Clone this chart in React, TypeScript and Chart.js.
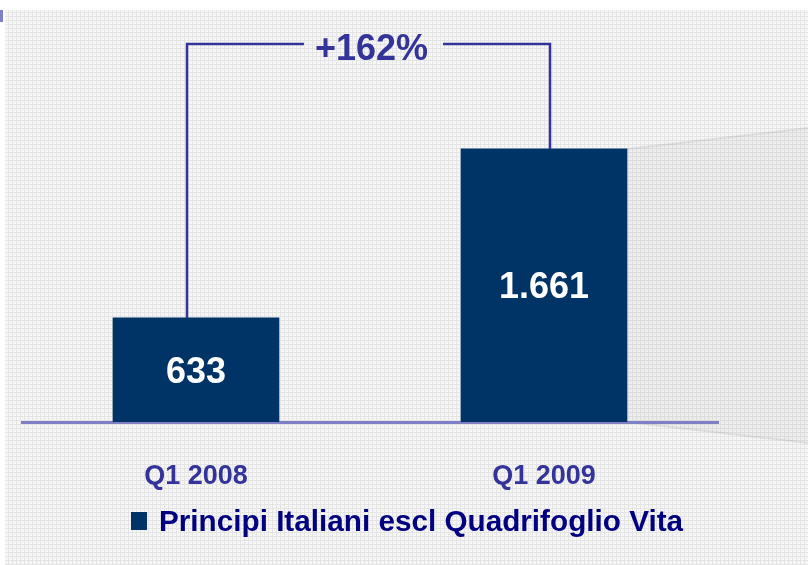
import React, { useEffect, useRef } from "react";
import { Chart, registerables } from "chart.js";

Chart.register(...registerables);

const categories = ["Q1 2008", "Q1 2009"];
const seriesName = "Principi Italiani escl Quadrifoglio Vita";
const values = [633, 1661];
const valueLabels = ["633", "1.661"];
const growthLabel = "+162%";
const bracketLevel = 2300;

const FONT = '"Liberation Sans", Arial, sans-serif';
const BAR = "#003366";
const PURPLE = "#333399";

function makePattern(ctx: CanvasRenderingContext2D) {
  const c = document.createElement("canvas");
  c.width = 4;
  c.height = 4;
  const p = c.getContext("2d")!;
  p.fillStyle = "#f7f7f7";
  p.fillRect(0, 0, 4, 4);
  p.fillStyle = "#e4e4e4";
  p.fillRect(0, 0, 4, 1);
  p.fillRect(0, 0, 1, 4);
  p.fillStyle = "#eeeeee";
  p.fillRect(2, 2, 1, 1);
  return ctx.createPattern(c, "repeat");
}

const decor = {
  id: "decor",
  beforeDraw(chart: any) {
    const { ctx, width, height } = chart;
    ctx.save();
    ctx.fillStyle = "#ffffff";
    ctx.fillRect(0, 0, width, height);
    const pat = makePattern(ctx);
    if (pat) {
      ctx.fillStyle = pat;
      ctx.fillRect(5, 10, width - 5, height - 10);
    }
    ctx.fillStyle = "#8080c8";
    ctx.fillRect(0, 10, 3, 12);
    // trapezoid to the right of the second bar
    const meta = chart.getDatasetMeta(0);
    const b2 = meta.data[1];
    if (b2) {
      const right = b2.x + b2.width / 2;
      ctx.beginPath();
      ctx.moveTo(right, b2.y);
      ctx.lineTo(width, b2.y - 21);
      ctx.lineTo(width, b2.base + 21);
      ctx.lineTo(right, b2.base);
      ctx.closePath();
      ctx.fillStyle = "rgba(0,0,0,0.03)";
      ctx.fill();
      ctx.beginPath();
      ctx.moveTo(right, b2.y);
      ctx.lineTo(width, b2.y - 21);
      ctx.moveTo(right, b2.base);
      ctx.lineTo(width, b2.base + 21);
      ctx.strokeStyle = "rgba(0,0,0,0.07)";
      ctx.lineWidth = 2;
      ctx.stroke();
    }
    ctx.restore();
  },
  afterDatasetsDraw(chart: any) {
    const { ctx } = chart;
    const meta = chart.getDatasetMeta(0);
    const yScale = chart.scales.y;
    const xScale = chart.scales.x;
    ctx.save();
    // value labels
    ctx.fillStyle = "#ffffff";
    ctx.font = `bold 36px ${FONT}`;
    ctx.textAlign = "center";
    ctx.textBaseline = "middle";
    meta.data.forEach((bar: any, i: number) => {
      ctx.fillText(valueLabels[i], bar.x, (bar.y + bar.base) / 2 + 3);
    });
    // bracket
    const b1 = meta.data[0];
    const b2 = meta.data[1];
    const yTop = yScale.getPixelForValue(bracketLevel);
    const xl = b1.x - 9;
    const xr = b2.x + 6;
    const xm = (xl + xr) / 2 + 3;
    ctx.font = `bold 36px ${FONT}`;
    const tw = ctx.measureText(growthLabel).width;
    ctx.strokeStyle = PURPLE;
    ctx.lineWidth = 2.5;
    ctx.beginPath();
    ctx.moveTo(xl, b1.y);
    ctx.lineTo(xl, yTop);
    ctx.lineTo(xm - tw / 2 - 11, yTop);
    ctx.moveTo(xm + tw / 2 + 15, yTop);
    ctx.lineTo(xr, yTop);
    ctx.lineTo(xr, b2.y);
    ctx.stroke();
    ctx.fillStyle = PURPLE;
    ctx.fillText(growthLabel, xm, yTop + 6);
    // category labels
    ctx.font = `bold 27px ${FONT}`;
    ctx.fillStyle = PURPLE;
    categories.forEach((c, i) => {
      ctx.fillText(c, xScale.getPixelForValue(i), 477);
    });
    // legend
    ctx.fillStyle = BAR;
    ctx.fillRect(131, 512, 16, 18);
    ctx.fillStyle = "#000080";
    ctx.textAlign = "left";
    ctx.font = `bold 29.7px ${FONT}`;
    ctx.fillText(seriesName, 159, 523);
    ctx.restore();
  },
};

export default function App() {
  const ref = useRef<HTMLCanvasElement>(null);
  useEffect(() => {
    document.body.style.margin = "0";
    const chart = new Chart(ref.current!, {
      type: "bar",
      data: {
        labels: categories,
        datasets: [
          {
            label: seriesName,
            data: values,
            backgroundColor: BAR,
            borderWidth: 0,
            barThickness: 166,
          },
        ],
      },
      options: {
        responsive: false,
        animation: false,
        layout: { padding: { top: 11, left: 22, right: 90, bottom: 143 } },
        plugins: { legend: { display: false }, tooltip: { enabled: false } },
        scales: {
          x: {
            grid: { display: false, drawTicks: false },
            ticks: { display: false },
            border: { display: true, color: "#7f7fc6", width: 3 },
            afterFit: (s: any) => {
              s.height = 0;
            },
          },
          y: {
            display: false,
            min: 0,
            max: 2500,
          },
        },
      },
      plugins: [decor],
    });
    return () => chart.destroy();
  }, []);
  return (
    <div style={{ width: 808, height: 565 }}>
      <canvas ref={ref} width={808} height={565} />
    </div>
  );
}
